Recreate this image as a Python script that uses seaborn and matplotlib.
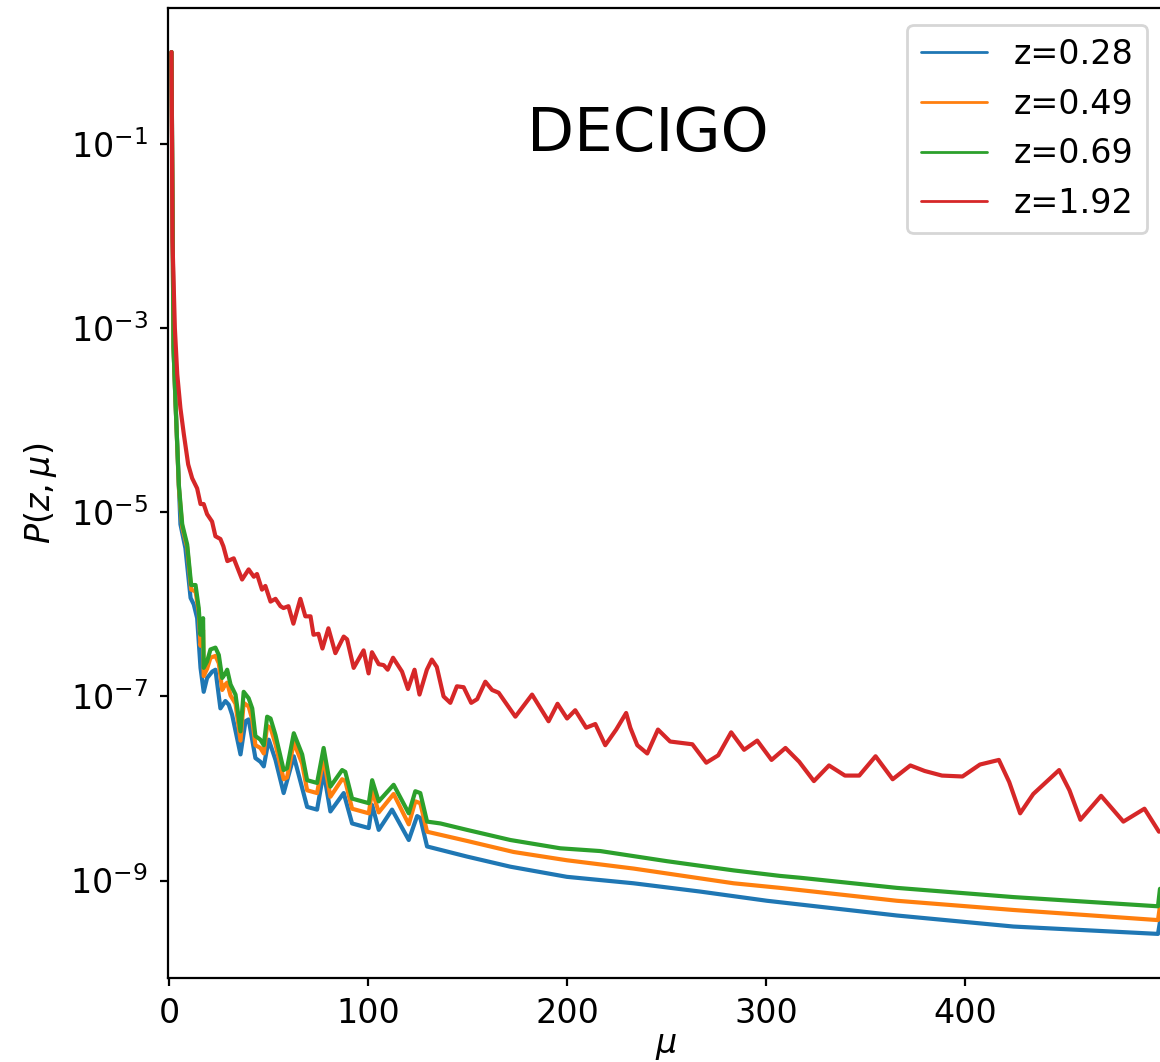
import numpy as np
import pandas as pd
import matplotlib
matplotlib.use("Agg")
import matplotlib.pyplot as plt
import seaborn as sns
from matplotlib.ticker import NullLocator

# Werte (log10 P)
labels = ["z=0.28", "z=0.49", "z=0.69", "z=1.92"]
colors = ["#1f77b4", "#ff7f0e", "#2ca02c", "#d62728"]

mu_z028 = [1, 2, 3.0, 5.5, 8.0, 10.6, 12.2, 13.9, 15.6, 17.2, 18.9, 21.5, 23.1, 25.6, 28.1,
           29.8, 31.5, 35.7, 38.2, 39.8, 43.2, 45.7, 47.4, 49.9, 53.3, 57.4, 62.5, 69.2, 74.2,
           77.5, 80.9, 87.6, 91.8, 100.2, 101.9, 105.2, 111.9, 120.3, 124.5, 126.1, 129.5,
           149.6, 171.4, 199.8, 233.3, 266.8, 300.4, 365.7, 424.3, 497.0, 498.0]
logp_z028 = [0.0, -3.2, -3.79, -5.13, -5.39, -5.93, -6.00, -6.15, -6.69, -6.95, -6.80, -6.73,
             -6.71, -7.13, -7.05, -7.09, -7.20, -7.63, -7.27, -7.25, -7.67, -7.71, -7.76, -7.47,
             -7.69, -8.05, -7.65, -8.20, -8.23, -7.82, -8.25, -8.05, -8.38, -8.43, -8.18, -8.45,
             -8.23, -8.56, -8.30, -8.32, -8.63, -8.74, -8.85, -8.96, -9.03, -9.12, -9.22,
             -9.38, -9.50, -9.58, -9.45]

mu_z049 = [1, 2, 3.0, 4.7, 6.4, 8.9, 10.9, 13.1, 14.7, 15.6, 16.9, 17.2, 18.9, 20.6, 23.1,
           24.8, 26.5, 28.1, 29.0, 30.7, 33.2, 35.7, 37.3, 39.8, 41.6, 43.2, 45.7, 47.4, 49.1,
           50.8, 53.3, 57.4, 59.1, 62.5, 66.7, 69.2, 74.2, 77.5, 80.9, 86.8, 88.4, 91.8, 100.2,
           101.9, 105.2, 112.7, 120.3, 123.6, 126.1, 129.5, 149.6, 173.0, 199.8, 233.3, 283.6,
           307.0, 365.7, 424.3, 497.0, 498.0]
logp_z049 = [0.0, -3.2, -3.79, -4.73, -5.16, -5.38, -5.84, -5.86, -6.08, -6.45, -6.28, -6.78,
             -6.70, -6.58, -6.56, -6.64, -6.93, -6.87, -6.85, -6.99, -7.08, -7.48, -7.07, -7.11,
             -7.25, -7.53, -7.56, -7.62, -7.32, -7.34, -7.52, -7.90, -7.88, -7.50, -7.73, -8.02,
             -8.05, -7.67, -8.09, -7.90, -7.92, -8.22, -8.27, -8.02, -8.26, -8.06, -8.39, -8.14,
             -8.16, -8.47, -8.57, -8.69, -8.78, -8.87, -9.03, -9.08, -9.22, -9.32, -9.43, -9.28]

mu_z069 = [1, 2, 3.0, 4.7, 6.4, 8.9, 10.9, 13.1, 14.7, 15.6, 16.9, 17.2, 18.9, 20.6, 23.1,
           24.8, 26.5, 28.1, 29.0, 30.7, 33.2, 35.7, 37.3, 39.8, 41.6, 43.2, 45.7, 47.4, 49.1,
           50.8, 53.3, 57.4, 59.1, 62.5, 66.7, 69.2, 74.2, 77.5, 80.9, 86.8, 88.4, 91.8, 100.2,
           101.9, 105.2, 112.7, 120.3, 123.6, 126.1, 129.5, 136.2, 149.6, 171.4, 196.5, 216.6,
           250.1, 283.6, 307.0, 317.1, 365.7, 424.3, 497.0, 498.0]
logp_z069 = [0.0, -3.2, -3.79, -4.70, -5.13, -5.35, -5.79, -5.79, -6.04, -6.33, -6.15, -6.69,
             -6.62, -6.49, -6.47, -6.55, -6.80, -6.75, -6.71, -6.87, -6.98, -7.38, -6.95, -7.02,
             -7.13, -7.43, -7.47, -7.53, -7.22, -7.24, -7.42, -7.80, -7.78, -7.40, -7.63, -7.91,
             -7.94, -7.56, -7.98, -7.80, -7.82, -8.11, -8.16, -7.91, -8.14, -7.96, -8.27, -8.03,
             -8.05, -8.36, -8.38, -8.45, -8.56, -8.65, -8.68, -8.79, -8.89, -8.95, -8.97, -9.08,
             -9.18, -9.28, -9.09]

mu_z192 = [1, 1.5, 2.7, 3.9, 5.5, 7.2, 9.4, 11.4, 13.9, 15.6, 17.2, 18.9, 21.4, 23.1, 25.6,
           27.1, 29.1, 32.3, 36.5, 39.8, 42.4, 44.0, 46.5, 48.2, 50.8, 53.3, 55.8, 57.3, 59.8,
           62.3, 65.8, 68.3, 70.9, 72.4, 74.9, 76.9, 79.9, 83.4, 87.6, 89.3, 92.6, 97.6, 100.1,
           101.8, 105.2, 107.7, 109.7, 112.4, 116.9, 119.9, 123.2, 125.7, 129.4, 131.9, 134.4,
           137.8, 141.2, 144.5, 147.9, 151.7, 154.7, 158.8, 162.2, 165.5, 173.9, 182.3, 190.6,
           195.1, 199.9, 204.0, 209.5, 214.1, 219.1, 224.6, 229.6, 231.7, 235.2, 240.2, 245.6,
           251.7, 262.9, 269.9, 275.9, 282.4, 288.9, 295.5, 302.7, 309.7, 316.6, 324.0, 331.6,
           339.6, 346.8, 355.0, 363.6, 372.5, 379.7, 388.4, 398.7, 407.5, 417.0, 422.2, 427.7,
           434.3, 447.3, 452.5, 458.0, 468.4, 479.6, 490.2, 497.5]
logp_z192 = [0.0, -2.05, -3.0, -3.5, -3.87, -4.15, -4.48, -4.63, -4.74, -4.91, -4.91, -5.02,
             -5.10, -5.26, -5.29, -5.37, -5.53, -5.50, -5.73, -5.62, -5.70, -5.67, -5.84, -5.80,
             -5.97, -5.94, -6.02, -6.04, -6.02, -6.21, -5.94, -6.13, -6.13, -6.33, -6.32, -6.48,
             -6.26, -6.53, -6.35, -6.38, -6.69, -6.50, -6.75, -6.52, -6.65, -6.66, -6.71, -6.58,
             -6.73, -6.92, -6.71, -6.98, -6.71, -6.60, -6.68, -7.00, -7.07, -6.89, -6.90, -7.07,
             -7.03, -6.84, -6.93, -6.96, -7.22, -6.98, -7.27, -7.08, -7.24, -7.15, -7.34, -7.30,
             -7.53, -7.36, -7.18, -7.34, -7.53, -7.62, -7.36, -7.49, -7.52, -7.72, -7.64, -7.39,
             -7.58, -7.48, -7.69, -7.56, -7.71, -7.92, -7.75, -7.86, -7.86, -7.65, -7.90, -7.75,
             -7.81, -7.86, -7.87, -7.74, -7.69, -7.93, -8.27, -8.06, -7.80, -8.02, -8.34, -8.08,
             -8.36, -8.22, -8.47]

# Long-Format DataFrame
frames = []
for lab, mu, lp in zip(labels,
                       [mu_z028, mu_z049, mu_z069, mu_z192],
                       [logp_z028, logp_z049, logp_z069, logp_z192]):
    frames.append(pd.DataFrame({"mu": mu, "P": 10.0 ** np.array(lp), "z": lab}))
df = pd.concat(frames, ignore_index=True)

#%% Grafik
sns.set_style("ticks")
plt.rcParams["font.family"] = ["DejaVu Sans"]
plt.rcParams["font.size"] = 12
plt.rcParams["axes.linewidth"] = 0.8
for key in ["text.color", "axes.labelcolor", "xtick.color", "ytick.color", "axes.edgecolor"]:
    plt.rcParams[key] = "black"

fig = plt.figure(figsize=(5.8, 5.31), dpi=200)
ax = fig.add_axes([0.1444, 0.0791, 0.8590, 0.9134])
sns.lineplot(data=df, x="mu", y="P", hue="z", hue_order=labels, palette=colors,
             estimator=None, sort=False, linewidth=1.5, ax=ax)
ax.set_yscale("log")
ax.set_xlim(-1, 500)
ax.set_xticks([0, 100, 200, 300, 400])
ax.set_yticks([1e-1, 1e-3, 1e-5, 1e-7, 1e-9])
ax.yaxis.set_minor_locator(NullLocator())
ax.tick_params(labelsize=12, length=2.8, pad=4.2, width=0.8, colors="black")
for s in ax.spines.values():
    s.set_visible(True)
    s.set_color("black")
ax.set_xlabel(r"$\mu$", fontsize=12, labelpad=-0.5)
ax.set_ylabel(r"$P(z,\mu)$", fontsize=12)

leg = ax.get_legend()
handles = leg.legend_handles
for h in handles:
    h.set_linewidth(1.0)
ax.legend(handles, labels, loc="upper right", fontsize=12)

ax.text(0.482, 0.870, "DECIGO", transform=ax.transAxes, fontsize=22,
        ha="center", va="center", color="black")

fig.savefig("out.png", dpi=200)
